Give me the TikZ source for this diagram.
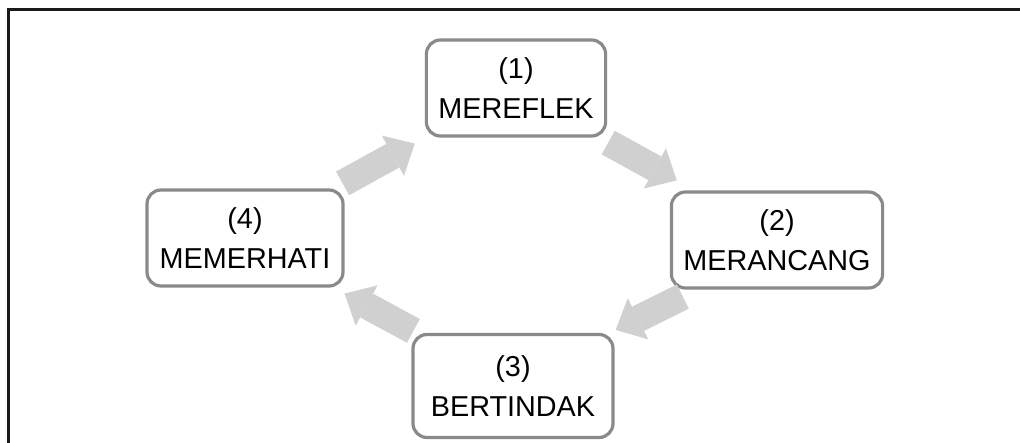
\documentclass[tikz,border=0pt]{standalone}
\usepackage{fontspec}
\setmainfont{Liberation Sans}
\usetikzlibrary{arrows.meta,positioning}
\definecolor{frame}{HTML}{1A1A1A}
\definecolor{boxline}{HTML}{8A8A8A}
\definecolor{flow}{HTML}{D0D0D0}
\tikzset{
  stage/.style = {draw=boxline,line width=3.2pt,rounded corners=14pt,fill=white,align=center,font=\fontsize{28.8}{40}\selectfont,inner xsep=12pt,minimum height=96pt},
  flowarr/.style = {draw=flow,line width=27pt,-{Triangle[width=46pt,length=25pt,line width=0pt]}}
}

\begin{document}
\begin{tikzpicture}[x=1pt,y=-1pt]
\useasboundingbox (0,0) rectangle (1020,443);
\draw[frame,line width=2.2pt] (8.5,443) -- (8.5,9.5) -- (1020,9.5);

\node[stage,minimum width=178pt] (refl) at (516,88) {(1)\\MEREFLEK};
\node[stage,minimum width=209pt] (plan) at (777,240) {(2)\\MERANCANG};
\node[stage,minimum width=200pt,minimum height=103pt] (act) at (513,386) {(3)\\BERTINDAK};
\node[stage,minimum width=196pt] (obs) at (245,238) {(4)\\MEMERHATI};

\draw[flowarr] ([shift={(-2,-5)}]obs.north east) -- ([shift={(-10,6)}]refl.south west);
\draw[flowarr] ([shift={(1,5)}]refl.south east) -- ([shift={(7,-10)}]plan.north west);
\draw[flowarr] ([shift={(13,7)}]plan.south west) -- ([shift={(1,-3)}]act.north east);
\draw[flowarr] ([shift={(2,-2)}]act.north west) -- ([shift={(0,6)}]obs.south east);
\end{tikzpicture}
\end{document}
